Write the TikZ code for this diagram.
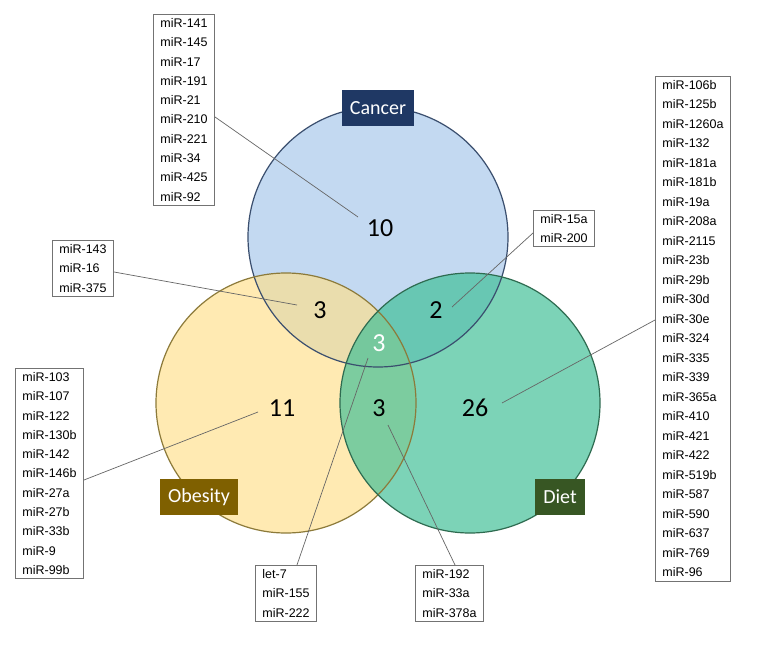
\documentclass[tikz,border=0pt]{standalone}
\usepackage{fontspec}
\setmainfont{Liberation Sans}
\newfontfamily\carlfont{Carlito}
\begin{document}
\begin{tikzpicture}[x=1pt,y=-1pt,
  lst/.style={draw=black!55,line width=0.8pt,fill=white,align=left,anchor=north west,inner xsep=7pt,inner ysep=4pt,font=\fontsize{12.5}{19.3}\selectfont},
  num/.style={font=\carlfont\fontsize{26}{26}\selectfont},
  ttl/.style={font=\carlfont\fontsize{20}{20}\selectfont,text=white,inner xsep=8pt,minimum height=36pt},
  con/.style={draw=black!60,line width=0.7pt}]
\useasboundingbox (0,0) rectangle (761,648);
\fill[white] (0,0) rectangle (761,648);
\definecolor{cb}{HTML}{BDD5F0}\definecolor{cbd}{HTML}{3A4E6E}
\definecolor{ob}{HTML}{FFE08A}\definecolor{obd}{HTML}{8C7A3A}
\definecolor{db}{HTML}{3EBF96}\definecolor{dbd}{HTML}{2E6B50}
\definecolor{tcc}{HTML}{1F3864}\definecolor{toc}{HTML}{7F6000}\definecolor{tdc}{HTML}{375623}
\fill[cb,fill opacity=0.9] (378,237) circle (130);
\fill[ob,fill opacity=0.65] (286,403) circle (130);
\fill[db,fill opacity=0.68] (470,403) circle (130);
\draw[cbd,line width=1.2pt] (378,237) circle (130);
\draw[obd,line width=1.2pt] (286,403) circle (130);
\draw[dbd,line width=1.2pt] (470,403) circle (130);
\node[ttl,fill=tcc] (tc) at (378,108) {Cancer};
\node[ttl,fill=toc] (to) at (199,497) {Obesity};
\node[ttl,fill=tdc] (td) at (560,497) {Diet};
\node[num] (n10) at (380,228) {10};
\node[num] (nco) at (320,310) {3};
\node[num] (ncd) at (436,310) {2};
\node[num,text=white] (nall) at (379,343) {3};
\node[num] (n11) at (282,408) {11};
\node[num] (nod) at (379,408) {3};
\node[num] (n26) at (475,408) {26};
\coordinate (e10) at (358,217);
\coordinate (eco) at (297,305);
\coordinate (ecd) at (452,307);
\coordinate (eall) at (368,358);
\coordinate (eod) at (388,425);
\coordinate (e26) at (502,403);
\coordinate (e11) at (258,412);
\node[lst] (bc) at (153,14) {miR-141\\miR-145\\miR-17\\miR-191\\miR-21\\miR-210\\miR-221\\miR-34\\miR-425\\miR-92};
\node[lst] (bco) at (52,240) {miR-143\\miR-16\\miR-375};
\node[lst] (bcd) at (533,210) {miR-15a\\miR-200};
\node[lst] (bo) at (15,368) {miR-103\\miR-107\\miR-122\\miR-130b\\miR-142\\miR-146b\\miR-27a\\miR-27b\\miR-33b\\miR-9\\miR-99b};
\node[lst] (ball) at (255,565) {let-7\\miR-155\\miR-222};
\node[lst] (bod) at (415,565) {miR-192\\miR-33a\\miR-378a};
\node[lst,font=\fontsize{12.5}{19.5}\selectfont] (bd) at (655,76) {miR-106b\\miR-125b\\miR-1260a\\miR-132\\miR-181a\\miR-181b\\miR-19a\\miR-208a\\miR-2115\\miR-23b\\miR-29b\\miR-30d\\miR-30e\\miR-324\\miR-335\\miR-339\\miR-365a\\miR-410\\miR-421\\miR-422\\miR-519b\\miR-587\\miR-590\\miR-637\\miR-769\\miR-96};
\draw[con] (bc.east |- 0,117) -- (e10);
\draw[con] (bco.east |- 0,272) -- (eco);
\draw[con] (bcd.west |- 0,233) -- (ecd);
\draw[con] (bo.east |- 0,480) -- (e11);
\draw[con] (ball.north -| 297,0) -- (eall);
\draw[con] (bod.north -| 455,0) -- (eod);
\draw[con] (bd.west |- 0,320) -- (e26);
\end{tikzpicture}
\end{document}
